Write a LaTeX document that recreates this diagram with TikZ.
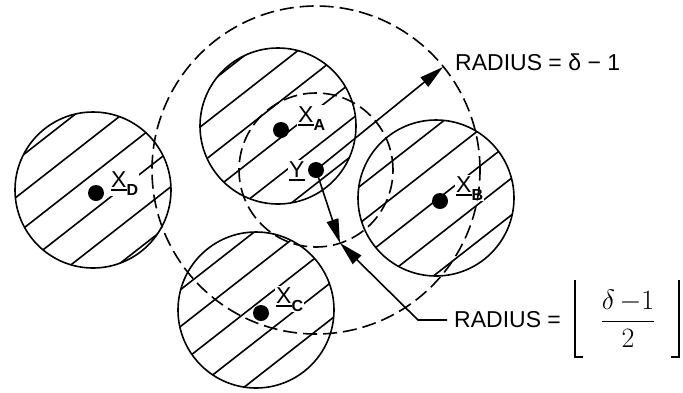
\RequirePackage{fix-cm}
\documentclass[tikz,border=0pt]{standalone}
\usepackage[no-math]{fontspec}
\setmainfont{Liberation Sans}
\usetikzlibrary{arrows.meta}
\newcommand\ulin[1]{\leavevmode\setbox0\hbox{#1}\rlap{\rule[-3.5pt]{\wd0}{1.8pt}}\box0}
\newcommand\subl[1]{\raisebox{-8pt}{\fontsize{16}{16}\selectfont\bfseries #1}}
\begin{document}
\begin{tikzpicture}[x=1pt,y=-1pt,
  disk/.style={circle,draw,line width=1.6pt,minimum size=156pt,inner sep=0pt},
  dot/.style={circle,fill=black,minimum size=16pt,inner sep=0pt},
  lab/.style={font=\fontsize{23}{26}\selectfont,inner sep=1pt,fill=white,anchor=base west},
  txt/.style={font=\fontsize{23}{26}\selectfont,inner sep=0pt},
  dsh/.style={line width=1.6pt,dash pattern=on 14pt off 6pt},
  arr/.style={line width=1.6pt,-{Triangle[length=24pt,width=12pt]}},
  brk/.style={line width=1.8pt},
  hatch/.style={line width=1.6pt}]
\useasboundingbox (0,0) rectangle (683,392);
\coordinate (cA) at (278,126);
\coordinate (cB) at (436,198);
\coordinate (cC) at (256,310);
\coordinate (cD) at (93,190);
% hatching
\foreach \c in {cA,cB,cC,cD}{
  \begin{scope}
    \clip (\c) circle[radius=78pt];
    \foreach \m in {0,...,26}
      \draw[hatch] ({(20.3+29*\m)*0.616-250*0.788},{(20.3+29*\m)*0.788+250*0.616}) -- ++(630.4,-492.8);
  \end{scope}}
% labels
\node[lab] (la) at (297,122) {\ulin{X}\subl{A}};
\node[lab] (lb) at (455,192) {\ulin{X}\subl{B}};
\node[lab] (lc) at (275,303) {\ulin{X}\subl{C}};
\node[lab] (ld) at (110,187) {\ulin{X}\subl{D}};
\node[lab] (ly) at (288,177) {\ulin{Y}};
% disks
\node[disk] (A) at (cA) {};
\node[disk] (B) at (cB) {};
\node[disk] (C) at (cC) {};
\node[disk] (D) at (cD) {};
% dots
\node[dot] (xa) at (281,130) {};
\node[dot] (xb) at (440,201) {};
\node[dot] (xc) at (261,313) {};
\node[dot] (xd) at (96,193) {};
\node[dot] (Y) at (316,170) {};
% dashed circles
\draw[dsh] (Y.center) circle[radius=77pt];
\draw[dsh] (Y.center) circle[radius=164pt];
% arrows
\coordinate (tR) at (443,67);
\coordinate (tS) at (340,243);
\coordinate (knee) at (418,320);
\draw[arr] (Y.center) -- (tR);
\draw[arr] (Y.center) -- (tS);
\node[txt,anchor=west] (r1) at (455,62) {RADIUS = δ − 1};
\node[txt,anchor=west,inner xsep=7pt] (r2) at (447,320) {RADIUS =};
\node[txt,font=\fontsize{28}{32}\selectfont] (f2) at (628,319) {$\displaystyle\frac{\delta\,{-}1}{2}$};
\draw[brk] ([xshift=-53pt,yshift=39pt]f2.center) -- ++(0,77) -- ++(8,0);
\draw[brk] ([xshift=51pt,yshift=39pt]f2.center) -- ++(0,77) -- ++(-8,0);
\draw[arr] (r2.west) -- (knee) -- (tS);
\end{tikzpicture}
\end{document}
